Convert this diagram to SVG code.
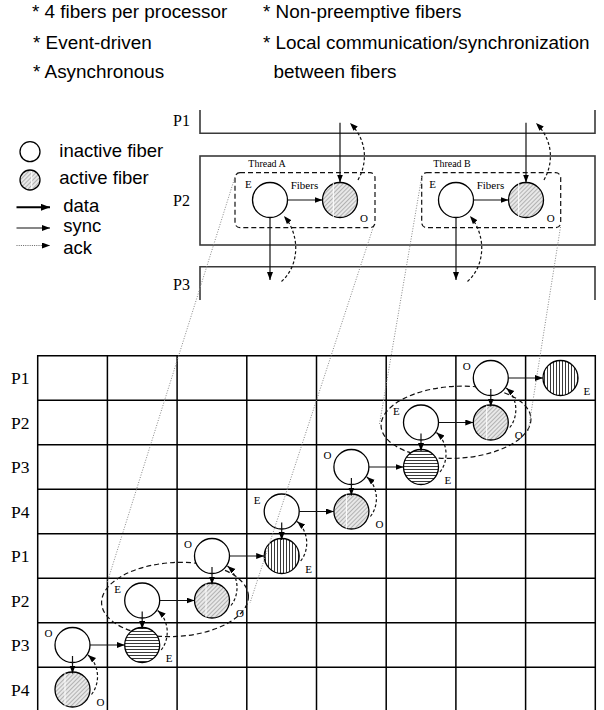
<svg xmlns="http://www.w3.org/2000/svg" width="604" height="710" viewBox="0 0 604 710">
  <style>
    .note { font-family: "Liberation Sans", Arial, sans-serif; font-size: 18.9px; fill: #000; }
    .leg { font-family: "Liberation Sans", Arial, sans-serif; font-size: 18.5px; fill: #000; }
    .proc { font-family: "Liberation Serif", "Times New Roman", serif; font-size: 17.5px; fill: #000; }
    .procs { font-family: "Liberation Serif", "Times New Roman", serif; font-size: 16px; fill: #000; }
    .tag { font-family: "Liberation Serif", "Times New Roman", serif; font-size: 11px; fill: #000; }
    .thr { font-family: "Liberation Serif", "Times New Roman", serif; font-size: 10px; fill: #000; }
    .box { fill: none; stroke: #3a3a3a; stroke-width: 1.6; }
    .grid { fill: none; stroke: #000; stroke-width: 1.5; }
    .fiber { stroke: #000; stroke-width: 1.3; }
    .inactive { fill: #fff; }
    .active { fill: url(#diag); }
    .vst { fill: url(#vstripe); }
    .hst { fill: url(#hstripe); }
    .sheen { stroke: #fff; stroke-width: 1; }
    .sync { fill: none; stroke: #111; stroke-width: 1.2; marker-end: url(#head); }
    .data { fill: none; stroke: #000; stroke-width: 2; marker-end: url(#headBig); }
    .ack { fill: none; stroke: #111; stroke-width: 1.2; stroke-dasharray: 3 2.2; marker-end: url(#head); }
    .ackleg { fill: none; stroke: #666; stroke-width: 1; stroke-dasharray: 1 1.2; marker-end: url(#head); }
    .group { fill: none; stroke: #111; stroke-width: 1.2; stroke-dasharray: 5 3; }
    .proj { fill: none; stroke: #888; stroke-width: 1; stroke-dasharray: 1 1.6; }
  </style>
  <defs>
    <marker id="head" markerUnits="userSpaceOnUse" markerWidth="9" markerHeight="7" refX="8" refY="3" orient="auto">
      <path d="M0,0 L8,3 L0,6 z" fill="#000"/>
    </marker>
    <marker id="headBig" markerUnits="userSpaceOnUse" markerWidth="10" markerHeight="8" refX="9" refY="3.5" orient="auto">
      <path d="M0,0 L9,3.5 L0,7 z" fill="#000"/>
    </marker>
    <pattern id="diag" patternUnits="userSpaceOnUse" width="3" height="3" patternTransform="rotate(45)">
      <rect width="3" height="3" fill="#e8e8e8"/>
      <line x1="0.5" y1="0" x2="0.5" y2="3" stroke="#ababab" stroke-width="0.9"/>
    </pattern>
    <pattern id="vstripe" patternUnits="userSpaceOnUse" width="3" height="3">
      <rect width="3" height="3" fill="#fff"/>
      <line x1="1.5" y1="0" x2="1.5" y2="3" stroke="#222" stroke-width="0.9"/>
    </pattern>
    <pattern id="hstripe" patternUnits="userSpaceOnUse" width="3" height="3">
      <rect width="3" height="3" fill="#fff"/>
      <line x1="0" y1="1.5" x2="3" y2="1.5" stroke="#222" stroke-width="0.9"/>
    </pattern>
  </defs>

  <rect width="604" height="710" fill="#fff"/>

  <!-- Feature notes -->
  <g id="notes">
    <text class="note" x="32" y="17.5">* 4 fibers per processor</text>
    <text class="note" x="33" y="48.5">* Event-driven</text>
    <text class="note" x="33" y="77.5">* Asynchronous</text>
    <text class="note" x="263" y="17.5">* Non-preemptive fibers</text>
    <text class="note" x="263" y="48.5">* Local communication/synchronization</text>
    <text class="note" x="273.5" y="77.5">between fibers</text>
  </g>

  <!-- Legend -->
  <g id="legend">
    <circle class="fiber inactive" cx="30" cy="151.7" r="10"/>
    <text class="leg" x="59.3" y="156.5">inactive fiber</text>
    <circle class="fiber active" cx="30" cy="180" r="10"/>
    <line class="sheen" x1="31.7" y1="171" x2="31.7" y2="189"/>
    <text class="leg" x="59.3" y="184">active fiber</text>
    <line class="data" x1="16.5" y1="207.3" x2="50" y2="207.3"/>
    <text class="leg" x="63.3" y="212">data</text>
    <line class="sync" x1="16.5" y1="228" x2="50" y2="228"/>
    <text class="leg" x="63.3" y="232">sync</text>
    <line class="ackleg" x1="16.5" y1="245.5" x2="50" y2="245.5"/>
    <text class="leg" x="63.3" y="253.5">ack</text>
  </g>

  <!-- Processors of the thread view -->
  <g id="proc-P1">
    <path class="box" d="M200,110 V133.3 H595 V110"/>
    <text class="procs" x="173" y="126">P1</text>
  </g>
  <g id="proc-P2">
    <rect class="box" x="200" y="156" width="395" height="89"/>
    <text class="procs" x="173" y="206">P2</text>
  </g>
  <g id="proc-P3">
    <path class="box" d="M200,300 V266.7 H595 V300"/>
    <text class="procs" x="173" y="289.5">P3</text>
  </g>

  <!-- Thread A -->
  <g id="thread-A">
    <rect class="group" x="235" y="172.7" width="140" height="55" rx="5"/>
    <text class="thr" x="248.3" y="167.3">Thread A</text>
    <text class="tag" x="245" y="188">E</text>
    <text class="tag" x="290.7" y="189">Fibers</text>
    <text class="tag" x="360" y="222">O</text>
  </g>
  <g id="thread-A-E">
    <circle class="fiber inactive" cx="270" cy="200" r="17.5"/>
  </g>
  <g id="thread-A-O">
    <circle class="fiber active" cx="340" cy="200" r="17.5"/>
    <line class="sheen" x1="333.3" y1="183" x2="333.3" y2="217"/>
  </g>

  <!-- Thread B -->
  <g id="thread-B">
    <rect class="group" x="421.7" y="172.7" width="139" height="55" rx="5"/>
    <text class="thr" x="433.3" y="167.3">Thread B</text>
    <text class="tag" x="429.3" y="188">E</text>
    <text class="tag" x="476.7" y="189">Fibers</text>
    <text class="tag" x="546.7" y="222">O</text>
  </g>
  <g id="thread-B-E">
    <circle class="fiber inactive" cx="456" cy="200" r="17.5"/>
  </g>
  <g id="thread-B-O">
    <circle class="fiber active" cx="526" cy="200" r="17.5"/>
    <line class="sheen" x1="518.7" y1="183" x2="518.7" y2="217"/>
  </g>

  <!-- Time x processor grid -->
  <g id="grid">
    <path class="grid" d="M37.7,355.7 H595.5 M37.7,400.2 H595.5 M37.7,444.7 H595.5 M37.7,489.2 H595.5 M37.7,533.7 H595.5 M37.7,578.2 H595.5 M37.7,622.7 H595.5 M37.7,667.2 H595.5"/>
    <path class="grid" d="M37.7,355 V710 M107.4,355 V710 M177.1,355 V710 M246.8,355 V710 M316.5,355 V710 M386.2,355 V710 M455.9,355 V710 M525.6,355 V710 M595.3,355 V710"/>
    <text class="proc" x="11" y="384">P1</text>
    <text class="proc" x="11" y="428.5">P2</text>
    <text class="proc" x="11" y="473">P3</text>
    <text class="proc" x="11" y="517.5">P4</text>
    <text class="proc" x="11" y="562">P1</text>
    <text class="proc" x="11" y="606.5">P2</text>
    <text class="proc" x="11" y="651">P3</text>
    <text class="proc" x="11" y="695.5">P4</text>
  </g>

  <!-- Fiber groups mapped onto the grid -->
  <g id="group-B">
    <ellipse class="group" cx="456" cy="422.3" rx="75" ry="36" transform="rotate(-3 456 422.3)"/>
  </g>
  <g id="group-A">
    <ellipse class="group" cx="175" cy="599.5" rx="73.5" ry="37" transform="rotate(-3 175 599.5)"/>
  </g>

  <!-- Fibers in the grid -->
  <g id="f-r0-c6"><circle class="fiber inactive" cx="490.8" cy="378" r="17.5"/><text class="tag" x="462.8" y="370">O</text></g>
  <g id="f-r0-c7"><circle class="fiber vst" cx="560.5" cy="378" r="17.5"/><text class="tag" x="583.5" y="395">E</text></g>
  <g id="f-r1-c5"><circle class="fiber inactive" cx="421" cy="422.5" r="17.5"/><text class="tag" x="393" y="414.5">E</text></g>
  <g id="f-r1-c6"><circle class="fiber active" cx="490.8" cy="422.5" r="17.5"/><line class="sheen" x1="486.7" y1="405.5" x2="486.7" y2="439.5"/><text class="tag" x="514.8" y="439">O</text></g>
  <g id="f-r2-c4"><circle class="fiber inactive" cx="351.4" cy="467" r="17.5"/><text class="tag" x="323.4" y="459">O</text></g>
  <g id="f-r2-c5"><circle class="fiber hst" cx="421" cy="467" r="17.5"/><text class="tag" x="444.5" y="483.5">E</text></g>
  <g id="f-r3-c3"><circle class="fiber inactive" cx="281.7" cy="511.5" r="17.5"/><text class="tag" x="253.7" y="503.5">E</text></g>
  <g id="f-r3-c4"><circle class="fiber active" cx="351.4" cy="511.5" r="17.5"/><line class="sheen" x1="346.4" y1="494.5" x2="346.4" y2="528.5"/><text class="tag" x="375.4" y="528">O</text></g>
  <g id="f-r4-c2"><circle class="fiber inactive" cx="212" cy="556" r="17.5"/><text class="tag" x="184" y="548">O</text></g>
  <g id="f-r4-c3"><circle class="fiber vst" cx="281.7" cy="556" r="17.5"/><text class="tag" x="305.2" y="572.5">E</text></g>
  <g id="f-r5-c1"><circle class="fiber inactive" cx="142.2" cy="600.5" r="17.5"/><text class="tag" x="114.2" y="592.5">E</text></g>
  <g id="f-r5-c2"><circle class="fiber active" cx="212" cy="600.5" r="17.5"/><line class="sheen" x1="206" y1="583.5" x2="206" y2="617.5"/><text class="tag" x="236" y="617">O</text></g>
  <g id="f-r6-c0"><circle class="fiber inactive" cx="72.5" cy="645" r="17.5"/><text class="tag" x="44.5" y="637">O</text></g>
  <g id="f-r6-c1"><circle class="fiber hst" cx="142.2" cy="645" r="17.5"/><text class="tag" x="165.7" y="661.5">E</text></g>
  <g id="f-r7-c0"><circle class="fiber active" cx="72.5" cy="689.5" r="17.5"/><line class="sheen" x1="65" y1="672.5" x2="65" y2="706.5"/><text class="tag" x="96.5" y="706">O</text></g>

  <!-- Connectors -->
  <g id="connectors">
    <!-- projections of the threads onto the grid -->
    <line class="proj" x1="235" y1="177" x2="107" y2="583"/>
    <line class="proj" x1="373.3" y1="227" x2="250" y2="603"/>
    <line class="proj" x1="421.7" y1="177" x2="379.5" y2="424"/>
    <line class="proj" x1="560.5" y1="227" x2="528" y2="432"/>

    <!-- thread A -->
    <line class="sync" x1="340" y1="122.7" x2="340" y2="182.5"/>
    <line class="sync" x1="287.5" y1="200" x2="322.5" y2="200"/>
    <line class="sync" x1="270" y1="217.5" x2="270" y2="280"/>
    <path class="ack" d="M358,180 C368,162 367,140 350,123"/>
    <path class="ack" d="M281.5,281.5 C299,266 301,236 284,216"/>

    <!-- thread B -->
    <line class="sync" x1="526" y1="122.7" x2="526" y2="182.5"/>
    <line class="sync" x1="473.5" y1="200" x2="508.5" y2="200"/>
    <line class="sync" x1="456" y1="217.5" x2="456" y2="280"/>
    <path class="ack" d="M544,180 C554,162 553,140 536,123"/>
    <path class="ack" d="M467.5,281.5 C485,266 487,236 470,216"/>

    <!-- grid: horizontal -->
    <line class="sync" x1="508.3" y1="378" x2="543" y2="378"/>
    <line class="sync" x1="438.5" y1="422.5" x2="473.3" y2="422.5"/>
    <line class="sync" x1="368.9" y1="467" x2="403.5" y2="467"/>
    <line class="sync" x1="299.2" y1="511.5" x2="333.9" y2="511.5"/>
    <line class="sync" x1="229.5" y1="556" x2="264.2" y2="556"/>
    <line class="sync" x1="159.7" y1="600.5" x2="194.5" y2="600.5"/>
    <line class="sync" x1="90" y1="645" x2="124.7" y2="645"/>

    <!-- grid: vertical -->
    <line class="sync" x1="490.8" y1="389" x2="490.8" y2="406.5"/>
    <line class="sync" x1="421" y1="433.5" x2="421" y2="451"/>
    <line class="sync" x1="351.4" y1="478" x2="351.4" y2="495.5"/>
    <line class="sync" x1="281.7" y1="522.5" x2="281.7" y2="540"/>
    <line class="sync" x1="212" y1="567" x2="212" y2="584.5"/>
    <line class="sync" x1="142.2" y1="611.5" x2="142.2" y2="629"/>
    <line class="sync" x1="72.5" y1="656" x2="72.5" y2="673.5"/>

    <!-- grid: acknowledgements -->
    <path class="ack" d="M509.8,427.5 C518.8,416 517.8,398 506.3,388"/>
    <path class="ack" d="M440,472 C449,460.5 448,442.5 436.5,432.5"/>
    <path class="ack" d="M370.4,516.5 C379.4,505 378.4,487 366.9,477"/>
    <path class="ack" d="M300.7,561 C309.7,549.5 308.7,531.5 297.2,521.5"/>
    <path class="ack" d="M231,605.5 C240,594 239,576 227.5,566"/>
    <path class="ack" d="M161.2,650 C170.2,638.5 169.2,620.5 157.7,610.5"/>
    <path class="ack" d="M91.5,694.5 C100.5,683 99.5,665 88,655"/>
  </g>
</svg>
